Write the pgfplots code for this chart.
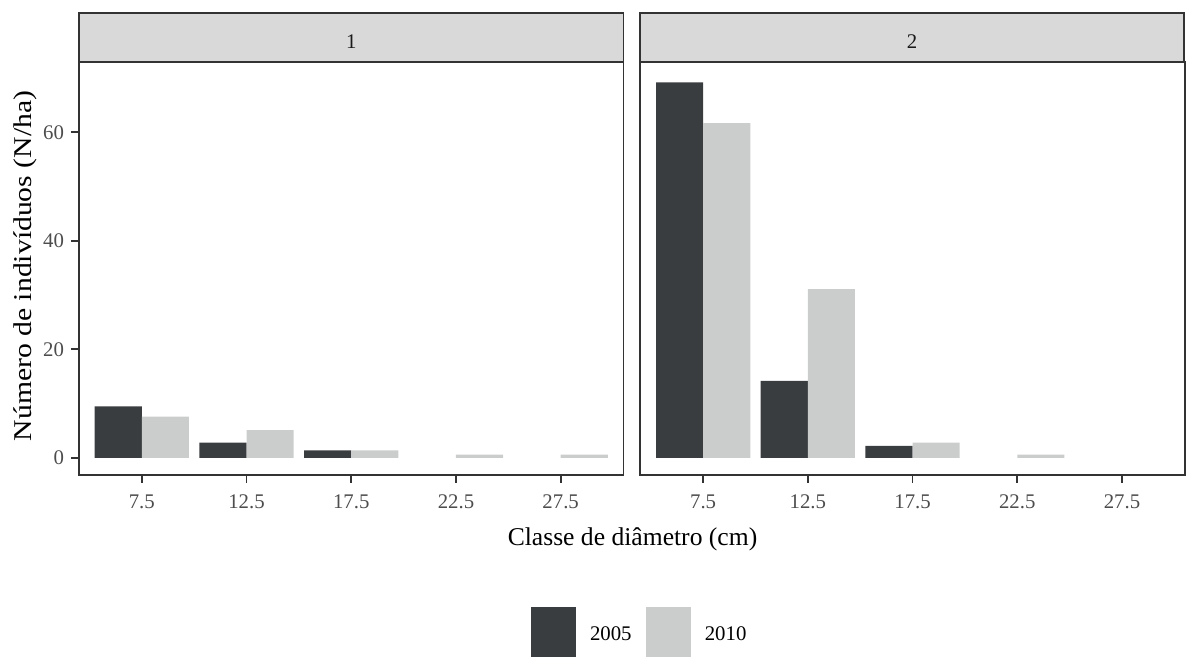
\documentclass[border=0pt]{standalone}
\usepackage{pgfplots}
\pgfplotsset{compat=1.18}
\usepackage{fontspec}
\setmainfont{Liberation Serif}
\definecolor{c05}{HTML}{3A3D40}
\definecolor{c10}{HTML}{CBCDCC}
\definecolor{stripc}{HTML}{D9D9D9}
\definecolor{framec}{HTML}{333333}
\definecolor{ticklab}{HTML}{4D4D4D}
\definecolor{striptext}{HTML}{1A1A1A}
\pgfplotsset{panel/.style={
  scale only axis, width=272.25pt, height=206.2pt, anchor=south west,
  xmin=0.4, xmax=5.6, ymin=-3.1, ymax=72.9,
  axis line style={framec, line width=0.9pt},
  xtick={1,2,3,4,5}, xticklabels={7.5,12.5,17.5,22.5,27.5},
  tick align=outside, major tick length=4pt,
  tick style={framec, line width=0.9pt},
  xtick pos=bottom, ytick pos=left,
  tick label style={font=\fontsize{10.4}{12}\selectfont, text=ticklab},
  xticklabel style={yshift=-2.5pt},
  /pgf/number format/assume math mode=true,
}}
\begin{document}
\begin{tikzpicture}
\path[use as bounding box] (0,0) rectangle (594.5pt,328.5pt);
% Panel 1
\begin{axis}[panel, at={(39.5pt,91.15pt)}, ytick={0,20,40,60}]
\addplot[ybar, bar width=0.45, bar shift=-0.225, fill=c05, draw=none, forget plot]
  coordinates {(1,9.5) (2,2.8) (3,1.4)};
\addplot[ybar, bar width=0.45, bar shift=0.225, fill=c10, draw=none, forget plot]
  coordinates {(1,7.6) (2,5.1) (3,1.4) (4,0.6) (5,0.6)};
\end{axis}
% Panel 2
\begin{axis}[panel, at={(320.15pt,91.15pt)}, ytick=\empty,
  legend style={at={(-0.2011,-0.3887)}, anchor=west, draw=none, fill=none,
    inner sep=0pt, outer sep=0pt, legend columns=2,
    font=\fontsize{10.4}{12}\selectfont,
    /tikz/every odd column/.append style={column sep=5pt},
    /tikz/every even column/.append style={column sep=5pt}},
  legend cell align=left]
\addplot[ybar, bar width=0.45, bar shift=-0.225, fill=c05, draw=none, forget plot]
  coordinates {(1,69.2) (2,14.2) (3,2.2)};
\addplot[ybar, bar width=0.45, bar shift=0.225, fill=c10, draw=none, forget plot]
  coordinates {(1,61.7) (2,31.1) (3,2.8) (4,0.6)};
\addlegendimage{legend image code/.code={\fill[c05] (0pt,-13.9pt) rectangle (22.2pt,13.9pt);}}
\addlegendentry{2005}
\addlegendimage{legend image code/.code={\fill[c10] (0pt,-13.9pt) rectangle (22.2pt,13.9pt);}}
\addlegendentry{2010}
\end{axis}
% strips
\draw[framec, line width=0.9pt, fill=stripc] (39.5pt,297.35pt) rectangle (311.75pt,321.85pt);
\node[text=striptext, font=\fontsize{10.4}{12}\selectfont] at (175.6pt,307.6pt) {1};
\draw[framec, line width=0.9pt, fill=stripc] (320.15pt,297.35pt) rectangle (591.85pt,321.85pt);
\node[text=striptext, font=\fontsize{10.4}{12}\selectfont] at (456pt,307.6pt) {2};
% axis titles
\node[rotate=90, xscale=1.16, font=\fontsize{12.8}{15}\selectfont] at (12.5pt,195.5pt) {Número de indivíduos (N/ha)};
\node[anchor=base, font=\fontsize{12.8}{15}\selectfont] at (316.25pt,55.65pt) {Classe de diâmetro (cm)};
\end{tikzpicture}
\end{document}
